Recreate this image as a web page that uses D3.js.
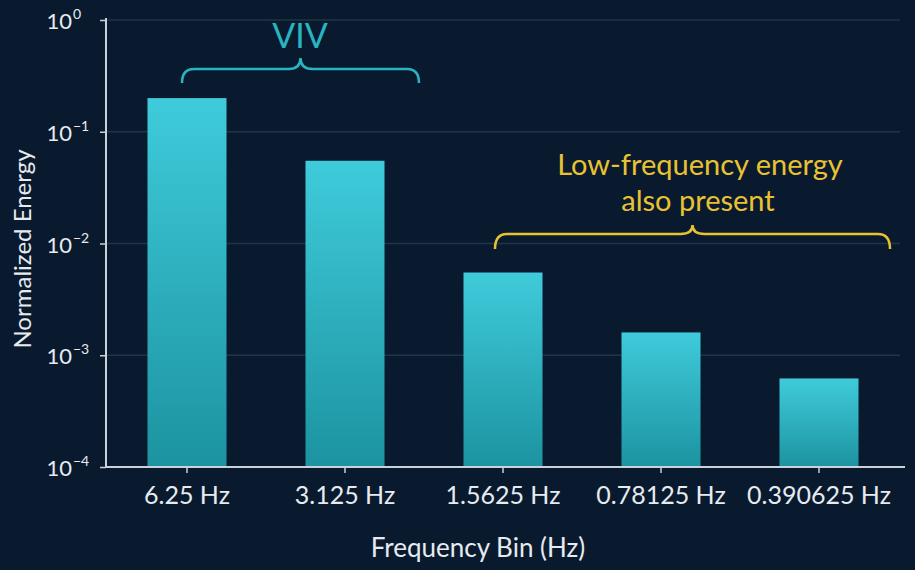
<!DOCTYPE html>
<html>
<head>
<meta charset="utf-8">
<script src="https://cdn.jsdelivr.net/npm/d3@7"></script>
<style>
  html, body { margin: 0; padding: 0; background: #0a1a2e; }
  svg { display: block; font-family: Lato, "Noto Sans", sans-serif; }
</style>
</head>
<body>
<svg width="915" height="570"></svg>
<script>
// data
var bins = ["6.25 Hz", "3.125 Hz", "1.5625 Hz", "0.78125 Hz", "0.390625 Hz"];
var energy = [0.2, 0.055, 0.0055, 0.0016, 0.00062];
var yTicks = [1e-4, 1e-3, 1e-2, 1e-1, 1];
var yExp = ["−4", "−3", "−2", "−1", "0"];

var svg = d3.select("svg");
var mLeft = 106, mRight = 905, mTop = 20, mBottom = 467;
var txt = "#e6ebf0", axisCol = "#c9d1d9";

svg.append("rect").attr("width", 915).attr("height", 570).attr("fill", "#0a1a2e");

var x = d3.scaleBand().domain(bins).range([108, 898]).paddingInner(0.5).paddingOuter(0.25);
var y = d3.scaleLog().domain([1e-4, 1]).range([mBottom, mTop]);

// bar gradient
var grad = svg.append("defs").append("linearGradient")
  .attr("id", "barGrad").attr("x1", 0).attr("y1", 0).attr("x2", 0).attr("y2", 1);
grad.append("stop").attr("offset", "0%").attr("stop-color", "#3fcbdb");
grad.append("stop").attr("offset", "100%").attr("stop-color", "#1c93a0");

// grid
svg.append("g").selectAll("line")
  .data(yTicks)
  .join("line")
  .attr("x1", mLeft).attr("x2", 900)
  .attr("y1", d => y(d)).attr("y2", d => y(d))
  .attr("stroke", "#1f3449").attr("stroke-width", 1.5);

// bars
svg.append("g").selectAll("rect")
  .data(energy)
  .join("rect")
  .attr("x", (d, i) => x(bins[i]))
  .attr("width", x.bandwidth())
  .attr("y", d => y(d))
  .attr("height", d => mBottom - y(d))
  .attr("fill", "url(#barGrad)");

// y axis
var yAxis = svg.append("g")
  .attr("transform", "translate(" + mLeft + ",0)")
  .call(d3.axisLeft(y).tickValues(yTicks).tickFormat(() => "").tickSizeOuter(0).tickSize(6));
yAxis.select(".domain").attr("stroke", axisCol).attr("stroke-width", 2).attr("d", "M0," + (mTop - 2) + "V" + mBottom);
yAxis.selectAll(".tick line").attr("stroke", axisCol).attr("stroke-width", 1.5);

svg.append("g").selectAll("text")
  .data(yTicks)
  .join("text")
  .attr("x", 72)
  .attr("y", d => y(d) + 9)
  .attr("text-anchor", "end")
  .attr("fill", txt)
  .attr("font-size", 22)
  .text("10");
svg.append("g").selectAll("text")
  .data(yTicks)
  .join("text")
  .attr("x", 73)
  .attr("y", d => y(d) - 1)
  .attr("fill", txt)
  .attr("font-size", 14)
  .text((d, i) => yExp[i]);

// x axis
var xAxis = svg.append("g")
  .attr("transform", "translate(0," + mBottom + ")")
  .call(d3.axisBottom(x).tickSizeOuter(0).tickSize(6).tickPadding(13));
xAxis.select(".domain").attr("stroke", axisCol).attr("stroke-width", 2).attr("d", "M" + mLeft + ",0H" + mRight);
xAxis.selectAll(".tick line").attr("stroke", axisCol).attr("stroke-width", 1.5);
xAxis.selectAll(".tick text")
  .attr("fill", txt)
  .attr("font-size", 25)
  .attr("font-family", "Lato, sans-serif");

// axis titles
svg.append("text")
  .attr("x", 478).attr("y", 557)
  .attr("text-anchor", "middle")
  .attr("fill", txt).attr("font-size", 26)
  .text("Frequency Bin (Hz)");
svg.append("text")
  .attr("transform", "translate(31,249) rotate(-90)")
  .attr("text-anchor", "middle")
  .attr("fill", txt).attr("font-size", 24)
  .text("Normalized Energy");

// curly brace helper
function brace(x1, x2, yLine, h, p) {
  var xm = (x1 + x2) / 2, r = 12;
  return "M" + x1 + "," + (yLine + h) +
    "Q" + x1 + "," + yLine + " " + (x1 + r) + "," + yLine +
    "L" + (xm - r) + "," + yLine +
    "Q" + xm + "," + yLine + " " + xm + "," + (yLine - p) +
    "Q" + xm + "," + yLine + " " + (xm + r) + "," + yLine +
    "L" + (x2 - r) + "," + yLine +
    "Q" + x2 + "," + yLine + " " + x2 + "," + (yLine + h);
}

// VIV annotation
svg.append("path")
  .attr("d", brace(182, 419, 69, 14, 11))
  .attr("fill", "none").attr("stroke", "#27b5c2").attr("stroke-width", 2.5);
svg.append("text")
  .attr("x", 300).attr("y", 48)
  .attr("text-anchor", "middle")
  .attr("fill", "#27b5c2").attr("font-size", 34)
  .text("VIV");

// low frequency annotation
svg.append("path")
  .attr("d", brace(495, 890, 234, 15, 9))
  .attr("fill", "none").attr("stroke", "#e8c232").attr("stroke-width", 2.5);
svg.append("text")
  .attr("x", 700).attr("y", 175)
  .attr("text-anchor", "middle")
  .attr("fill", "#e8c232").attr("font-size", 29)
  .text("Low-frequency energy");
svg.append("text")
  .attr("x", 698).attr("y", 211)
  .attr("text-anchor", "middle")
  .attr("fill", "#e8c232").attr("font-size", 29)
  .text("also present");
</script>
</body>
</html>
